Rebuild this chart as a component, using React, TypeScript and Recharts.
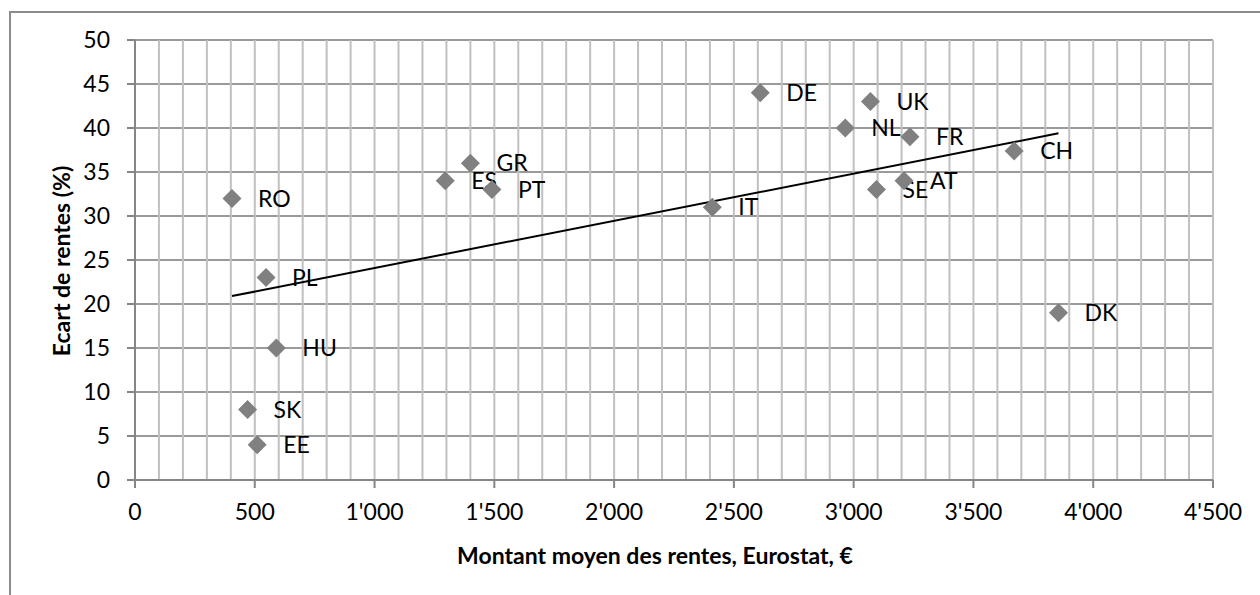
import React from 'react';
import { ScatterChart, Scatter, XAxis, YAxis, CartesianGrid, Label } from 'recharts';

const countries = ['RO', 'PL', 'HU', 'SK', 'EE', 'ES', 'GR', 'PT', 'IT', 'DE', 'NL', 'UK', 'FR', 'CH', 'SE', 'AT', 'DK'];
const pensionAmount = [405, 547, 590, 470, 510, 1295, 1400, 1490, 2410, 2610, 2965, 3070, 3235, 3670, 3095, 3210, 3855];
const pensionGap = [32, 23, 15, 8, 4, 34, 36, 33, 31, 44, 40, 43, 39, 37.4, 33, 34, 19];

const trendX = [405, 3855];
const trendY = [20.9, 39.4];

const xTicks = Array.from({ length: 46 }, (_, i) => i * 100);
const xMajorTicks = [0, 500, 1000, 1500, 2000, 2500, 3000, 3500, 4000, 4500];
const xTickLabels = ['0', '500', "1'000", "1'500", "2'000", "2'500", "3'000", "3'500", "4'000", "4'500"];
const yTicks = [0, 5, 10, 15, 20, 25, 30, 35, 40, 45, 50];

const points = countries.map((c, i) => ({ name: c, x: pensionAmount[i], y: pensionGap[i] }));
const trend = trendX.map((x, i) => ({ x, y: trendY[i] }));

const FONT = 'Lato, "Open Sans", sans-serif';
const FS = 23;

const Diamond = (props: any) => {
  const { cx, cy, payload } = props;
  const r = 9.5;
  return (
    <g>
      <polygon
        points={`${cx},${cy - r} ${cx + r},${cy} ${cx},${cy + r} ${cx - r},${cy}`}
        fill="#808080"
      />
      <text x={cx + 26} y={cy} dy="0.36em" fontSize={FS} fontFamily={FONT} fill="#000">
        {payload.name}
      </text>
    </g>
  );
};

const XTick = (props: any) => {
  const { x, y, payload } = props;
  const idx = xMajorTicks.indexOf(payload.value);
  if (idx < 0) return <g />;
  return (
    <g>
      <line x1={x} x2={x} y1={y - 25} y2={y - 17} stroke="#868686" strokeWidth={2} />
      <text x={x} y={y - 1} dy="0.71em" textAnchor="middle" fontSize={FS} fontFamily={FONT} fill="#000">
        {xTickLabels[idx]}
      </text>
    </g>
  );
};

export default function App() {
  return (
    <div style={{ position: 'absolute', left: 0, top: 0, width: 1260, height: 595, background: '#fff', overflow: 'hidden' }}>
      <div
        style={{
          position: 'absolute',
          left: 9,
          top: 11,
          width: 1251,
          height: 584,
          borderTop: '2px solid #8c8c8c',
          borderLeft: '2px solid #8c8c8c',
          boxSizing: 'border-box',
        }}
      />
      <div style={{ position: 'absolute', left: 0, top: 0 }}>
        <ScatterChart width={1260} height={595} margin={{ top: 40, right: 47, bottom: 55, left: 55 }}>
          <CartesianGrid vertical={false} stroke="#9a9a9a" strokeWidth={2} />
          <CartesianGrid horizontal={false} stroke="#c0c0c0" strokeWidth={2} />
          <XAxis
            type="number"
            dataKey="x"
            domain={[0, 4500]}
            ticks={xTicks}
            interval={0}
            tick={<XTick />}
            tickLine={false}
            tickSize={8}
            tickMargin={17}
            axisLine={{ stroke: '#868686', strokeWidth: 2 }}
            height={60}
          >
            <Label
              content={() => (
                <text x={655} y={556} dy="0.36em" textAnchor="middle" fontSize={FS} fontWeight="bold" fontFamily={FONT} fill="#000">
                  Montant moyen des rentes, Eurostat, €
                </text>
              )}
            />
          </XAxis>
          <YAxis
            type="number"
            dataKey="y"
            domain={[0, 50]}
            ticks={yTicks}
            interval={0}
            width={80}
            tickSize={8}
            tickMargin={17}
            tick={{ fontSize: FS, fontFamily: FONT, fill: '#000' }}
            tickLine={{ stroke: '#868686', strokeWidth: 2 }}
            axisLine={{ stroke: '#868686', strokeWidth: 2 }}
          >
            <Label
              content={() => (
                <text
                  x={62}
                  y={261}
                  dy="0.36em"
                  textAnchor="middle"
                  fontSize={FS}
                  fontWeight="bold"
                  fontFamily={FONT}
                  fill="#000"
                  transform="rotate(-90 62 261)"
                >
                  Ecart de rentes (%)
                </text>
              )}
            />
          </YAxis>
          <Scatter
            data={trend}
            line={{ stroke: '#000', strokeWidth: 2 }}
            shape={() => <g />}
            isAnimationActive={false}
          />
          <Scatter data={points} shape={<Diamond />} isAnimationActive={false} />
        </ScatterChart>
      </div>
    </div>
  );
}
